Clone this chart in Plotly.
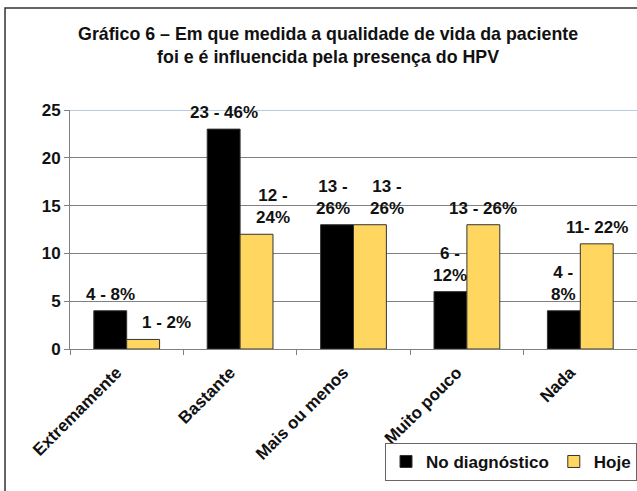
import plotly.graph_objects as go

categorias = ["Extremamente", "Bastante", "Mais ou menos", "Muito pouco", "Nada"]
diagnostico = [4, 23, 13, 6, 4]
hoje = [1, 12, 13, 13, 11]
rotulos_diag = ["4 - 8%", "23 - 46%", "13 -<br>26%", "6 -<br>12%", "4 -<br>8%"]
rotulos_hoje = ["1 - 2%", "12 -<br>24%", "13 -<br>26%", "13 - 26%", "11- 22%"]
y_ticks = [0, 5, 10, 15, 20, 25]

# label nudges (px) to mimic the hand-placed labels of the original
ajuste_diag = [0, 0, -4, 0, 0]
ajuste_hoje = [23, 16, 17, 0, 0]

FAM = "Liberation Sans, Arial"
COR = "#111111"

fig = go.Figure()
fig.add_trace(go.Bar(x=categorias, y=diagnostico, name="<b>No diagnóstico</b>",
                     marker=dict(color="#000000", line=dict(color="#333333", width=1))))
fig.add_trace(go.Bar(x=categorias, y=hoje, name="<b>Hoje</b>",
                     marker=dict(color="#FFD760", line=dict(color="#333333", width=1))))

# data labels
for valores, rotulos, ajuste, lado in [(diagnostico, rotulos_diag, ajuste_diag, -16.5),
                                       (hoje, rotulos_hoje, ajuste_hoje, 16.5)]:
    for c, v, r, a in zip(categorias, valores, rotulos, ajuste):
        fig.add_annotation(x=c, y=v, text=f"<b>{r}</b>", showarrow=False,
                           xanchor="center", yanchor="bottom", xshift=lado + a, yshift=5,
                           font=dict(size=17, family=FAM, color=COR))

fig.update_layout(
    width=637, height=491,
    margin=dict(l=70, r=0, t=110, b=142, autoexpand=False),
    paper_bgcolor="white", plot_bgcolor="white",
    barmode="group", bargap=0.42, bargroupgap=0,
    font=dict(family=FAM, size=16, color=COR),
    title=dict(text="<b>Gráfico 6 – Em que medida a qualidade de vida da paciente<br>foi e é influencida pela presença do HPV</b>",
               x=0.515, xref="container", xanchor="center", y=0.918, yanchor="top",
               font=dict(size=17.8, family=FAM, color=COR)),
    legend=dict(orientation="h", x=1.0, y=-0.393, xanchor="right", yanchor="top",
                bordercolor="#666666", borderwidth=1, bgcolor="white",
                font=dict(size=17, family=FAM, color=COR),
                itemwidth=30, tracegroupgap=0),
)
fig.update_xaxes(tickangle=-45, tickson="boundaries", ticks="outside", ticklen=5,
                 tickcolor="#808080", showline=True, linecolor="#808080", linewidth=1,
                 tickvals=categorias, ticktext=[f"<b>{c}</b>" for c in categorias],
                 tickfont=dict(size=17, family=FAM, color=COR),
                 ticklabelshift=-10, ticklabelstandoff=6,
                 showgrid=False, automargin=False)
fig.update_yaxes(range=[0, 25], tickvals=y_ticks, ticktext=[f"<b>{v}</b>" for v in y_ticks],
                 ticks="outside", ticklen=5,
                 tickcolor="#808080", showline=True, linecolor="#808080", linewidth=1,
                 gridcolor="#808080", gridwidth=1, zeroline=False, automargin=False,
                 tickfont=dict(size=17, family=FAM, color=COR))

# top border of the plot area (light blue) and outer frame
fig.add_shape(type="line", xref="paper", yref="y", x0=0, x1=1, y0=25, y1=25,
              line=dict(color="#B8CCDD", width=2), layer="below")
fig.add_shape(type="rect", xref="paper", yref="paper", x0=-0.1146, x1=1.2, y0=-1, y1=1.4268,
              line=dict(color="#333333", width=1.5), layer="below")

fig.write_html("out.html", config={"displayModeBar": False},
               post_script="document.body.style.margin='0';")
